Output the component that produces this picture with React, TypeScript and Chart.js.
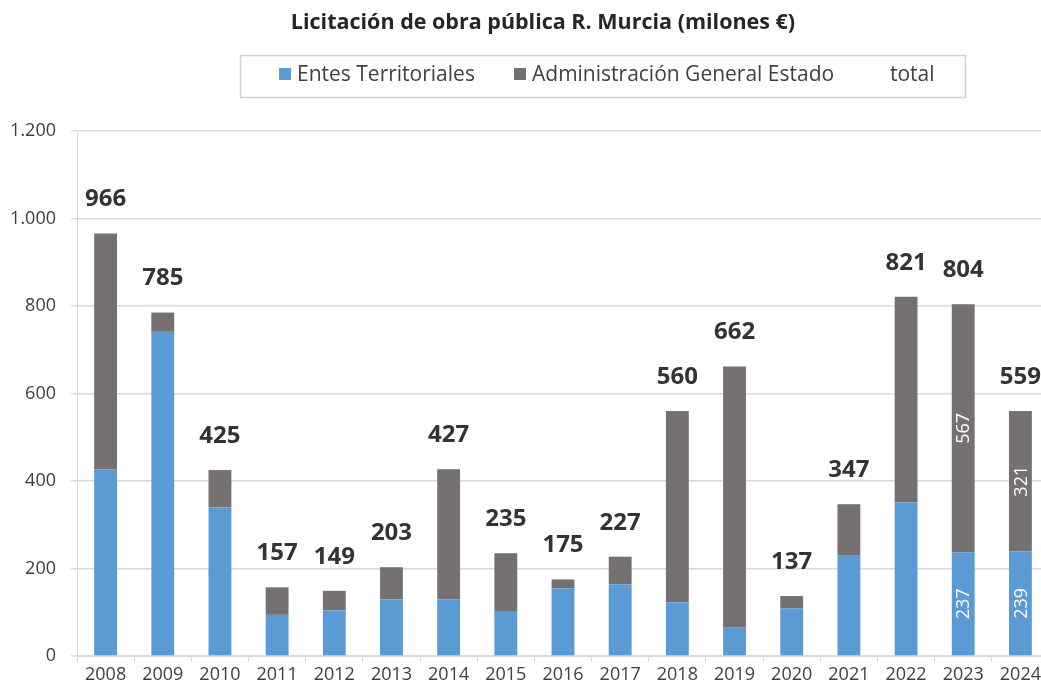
import React, { useEffect, useRef } from "react";
import { Chart, registerables } from "chart.js";
Chart.register(...registerables);

const years = ["2008","2009","2010","2011","2012","2013","2014","2015","2016","2017","2018","2019","2020","2021","2022","2023","2024"];
const entes = [427,741,340,94,104,130,130,103,155,164,123,66,109,229,351,237,239];
const age = [539,44,85,63,45,73,297,132,20,63,437,596,28,118,470,567,321];
const totals = [966,785,425,157,149,203,427,235,175,227,560,662,137,347,821,804,559];
const innerLabelYears = ["2023","2024"];
const seriesNames = ["Entes Territoriales","Administración General Estado","total"];
const titleText = "Licitación de obra pública R. Murcia (milones €)";

const FONT = "'Open Sans', Lato, sans-serif";
const BLUE = "#5B9BD5";
const GRAY = "#767171";

const fmt = (v: number) => v.toLocaleString("de-DE");

const decorPlugin = {
  id: "decor",
  afterDatasetsDraw(chart: any) {
    const ctx = chart.ctx;
    const xs = chart.scales.x;
    const ys = chart.scales.y;
    ctx.save();
    // total labels
    ctx.fillStyle = "#333333";
    ctx.font = `bold 24px ${FONT}`;
    ctx.textAlign = "center";
    ctx.textBaseline = "middle";
    totals.forEach((t, i) => {
      const x = xs.getPixelForValue(i);
      const y = ys.getPixelForValue(t);
      ctx.fillText(String(t), x, y - 34);
    });
    // inner rotated labels
    ctx.fillStyle = "#ffffff";
    ctx.font = `18px ${FONT}`;
    [0, 1].forEach((di) => {
      const meta = chart.getDatasetMeta(di);
      const data = chart.data.datasets[di].data as number[];
      years.forEach((yr, i) => {
        if (!innerLabelYears.includes(yr)) return;
        const el = meta.data[i] as any;
        const cy = (el.y + el.base) / 2;
        ctx.save();
        ctx.translate(el.x, cy);
        ctx.rotate(-Math.PI / 2);
        ctx.fillText(String(data[i]), 0, 1);
        ctx.restore();
      });
    });
    ctx.restore();
  },
  afterDraw(chart: any) {
    const ctx = chart.ctx;
    ctx.save();
    // title
    ctx.fillStyle = "#262626";
    ctx.font = `bold 21.5px ${FONT}`;
    ctx.textAlign = "center";
    ctx.textBaseline = "middle";
    ctx.fillText(titleText, 543, 23);
    // legend box
    ctx.strokeStyle = "#d0d0d0";
    ctx.lineWidth = 1.5;
    ctx.strokeRect(240.5, 55.5, 725, 42);
    ctx.font = `21px ${FONT}`;
    ctx.textAlign = "left";
    ctx.fillStyle = "#404040";
    const items = [
      { sx: 279, tx: 297, color: BLUE },
      { sx: 514, tx: 532, color: GRAY },
      { sx: 872, tx: 890, color: null as any },
    ];
    items.forEach((it, i) => {
      if (it.color) {
        ctx.fillStyle = it.color;
        ctx.fillRect(it.sx, 68, 12, 12);
      }
      ctx.fillStyle = "#404040";
      ctx.fillText(seriesNames[i], it.tx, 75);
    });
    ctx.restore();
  },
};

export default function App() {
  const ref = useRef<HTMLCanvasElement>(null);
  useEffect(() => {
    document.body.style.margin = "0";
    document.body.style.overflow = "hidden";
    const chart = new Chart(ref.current!, {
      type: "bar",
      data: {
        labels: years,
        datasets: [
          { label: seriesNames[0], data: entes, backgroundColor: BLUE, barPercentage: 0.8, categoryPercentage: 0.5, stack: "s" },
          { label: seriesNames[1], data: age, backgroundColor: GRAY, barPercentage: 0.8, categoryPercentage: 0.5, stack: "s" },
          { type: "line", label: seriesNames[2], data: totals, showLine: false, pointRadius: 0, borderColor: "transparent", backgroundColor: "transparent", stack: "total" } as any,
        ],
      },
      options: {
        responsive: false,
        animation: false,
        layout: { padding: { top: 131, left: 0, right: 0, bottom: 0 } },
        plugins: {
          legend: { display: false },
          title: { display: false },
          tooltip: { enabled: false },
        },
        scales: {
          x: {
            stacked: true,
            grid: { display: true, drawOnChartArea: false, drawTicks: true, tickLength: 6, color: "#d9d9d9", offset: true },
            border: { color: "#d9d9d9" },
            ticks: { color: "#404040", font: { family: FONT, size: 18 }, padding: 2, maxRotation: 0, autoSkip: false },
            afterFit: (s: any) => { s.height = 28; },
          },
          y: {
            stacked: true,
            min: 0,
            max: 1200,
            grid: { color: "#d9d9d9", tickLength: 6, lineWidth: 1.5 },
            border: { color: "#d9d9d9", display: true },
            ticks: { stepSize: 200, color: "#404040", font: { family: FONT, size: 18 }, padding: 15, callback: (v: any) => fmt(Number(v)) },
            afterFit: (s: any) => { s.width = 77; },
          },
        },
      },
      plugins: [decorPlugin],
    });
    return () => chart.destroy();
  }, []);
  return (
    <div style={{ width: 1041, height: 684, overflow: "hidden" }}>
      <canvas ref={ref} width={1049} height={684} style={{ display: "block" }} />
    </div>
  );
}
